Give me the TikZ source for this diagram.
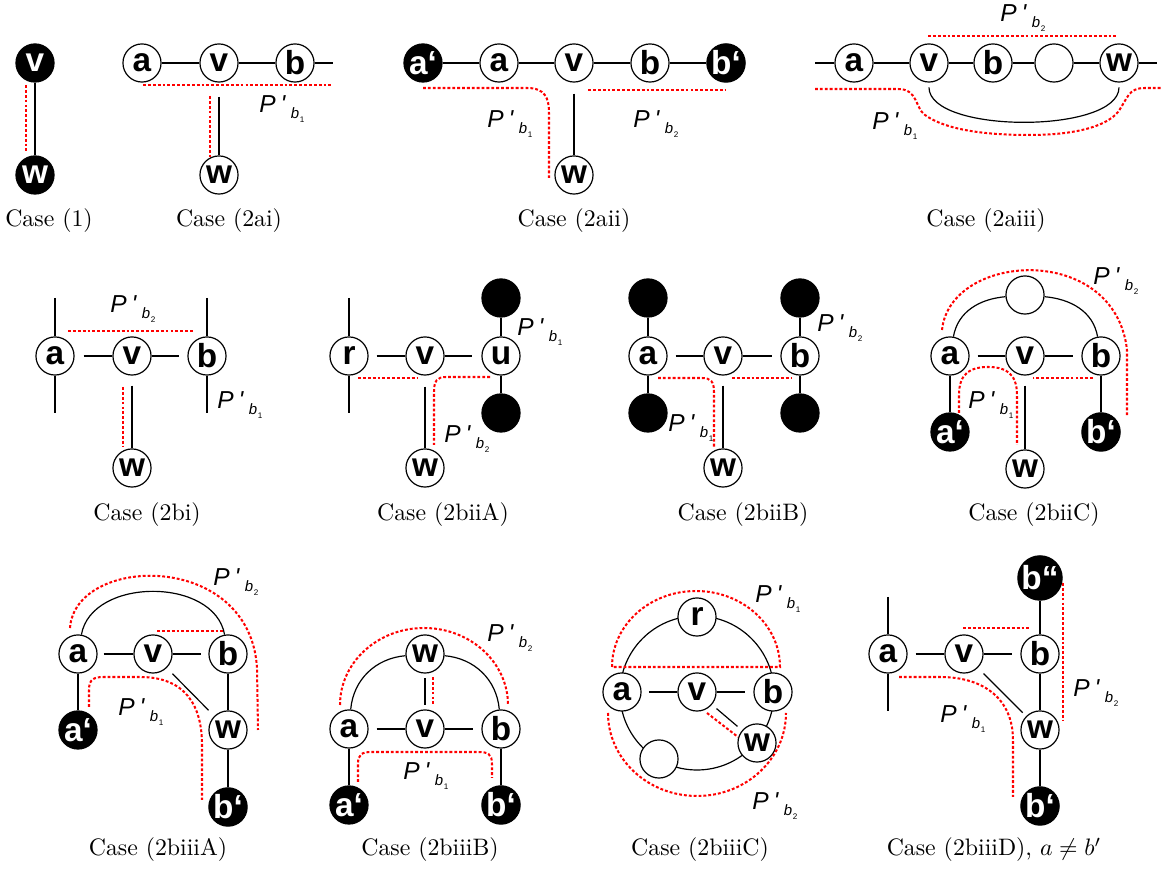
\documentclass[tikz,border=0pt]{standalone}
\usepackage{fontspec}
\newfontfamily\hv{Liberation Sans}
\newfontfamily\hvi{Liberation Sans}[Ligatures=TeXOff]
\newcommand{\nodefnt}{\hv\bfseries\fontsize{14}{14}\selectfont}
\newcommand{\Plab}[1]{{\hvi\itshape\fontsize{10.3}{10.3}\selectfont P\kern2pt'\kern2.3pt\raisebox{-2.5pt}{\fontsize{6.3}{6.3}\selectfont b\kern0.3pt\raisebox{-1.3pt}{\upshape\fontsize{3.4}{3.4}\selectfont #1}}}}
\begin{document}
\begin{tikzpicture}[x=0.42pt,y=-0.42pt,
  vtx/.style={circle,draw,line width=0.5pt,fill=white,minimum size=16pt,inner sep=0pt,font=\nodefnt},
  bvtx/.style={vtx,fill=black,text=white},
  edge/.style={line width=0.5pt},
  rdot/.style={red,line width=0.85pt,dash pattern=on 1.2pt off 0.85pt},
  capt/.style={font=\normalsize,inner sep=0pt},
  plab/.style={anchor=base west,inner sep=0pt}]
\useasboundingbox (0,0) rectangle (1161,869);

% ---------- Case (1)
\node[bvtx] (v1) at (35,63) {v};
\node[bvtx] (w1) at (35,175) {w};
\draw[edge] (v1) -- (w1);
\draw[rdot] (26,85) -- (26,153);
\node[capt] at (49,221) {Case (1)};

% ---------- Case (2ai)
\node[vtx] (a2) at (142,63) {a};
\node[vtx] (v2) at (219,63) {v};
\node[vtx] (b2) at (295,63) {b};
\node[vtx] (w2) at (219,175) {w};
\coordinate (e2) at (333,63);
\draw[edge] (a2) -- (v2);
\draw[edge] (v2) -- (b2);
\draw[edge] (b2) -- (e2);
\draw[edge,shorten <=6pt] (v2) -- (w2);
\draw[rdot] (143,85) -- (333,85);
\draw[rdot] (210,96) -- (210,157);
\node[plab] at (259,113) {\Plab{1}};
\node[capt] at (229,221) {Case (2ai)};

% ---------- Case (2aii)
\node[bvtx] (ap3) at (423,63) {a‘};
\node[vtx] (a3) at (499,63) {a};
\node[vtx] (v3) at (574,63) {v};
\node[vtx] (b3) at (650,63) {b};
\node[bvtx] (bp3) at (726,63) {b‘};
\node[vtx] (w3) at (574,175) {w};
\draw[edge] (ap3) -- (a3);
\draw[edge] (a3) -- (v3);
\draw[edge] (v3) -- (b3);
\draw[edge] (b3) -- (bp3);
\draw[edge,shorten <=4.6pt] (v3) -- (w3);
\draw[rdot] (423,88) -- (527,88) .. controls (545,88) and (549,98) .. (549,113) -- (549,178);
\draw[rdot] (588,90) -- (726,90);
\node[plab] at (487,128) {\Plab{1}};
\node[plab] at (633,128) {\Plab{2}};
\node[capt] at (574,221) {Case (2aii)};

% ---------- Case (2aiii)
\coordinate (s4) at (815,63);
\node[vtx] (a4) at (854,63) {a};
\node[vtx] (v4) at (929,63) {v};
\node[vtx] (b4) at (993,63) {b};
\node[vtx] (n4) at (1054,63) {};
\node[vtx] (w4) at (1119,63) {w};
\coordinate (e4) at (1157,63);
\draw[edge] (s4) -- (a4);
\draw[edge] (a4) -- (v4);
\draw[edge] (v4) -- (b4);
\draw[edge] (b4) -- (n4);
\draw[edge] (n4) -- (w4);
\draw[edge] (w4) -- (e4);
\draw[edge,shorten <=2pt,shorten >=2pt] (v4.south) .. controls (929,134) and (1119,134) .. (w4.south);
\draw[rdot] (815,89) -- (898,89) .. controls (918,89) and (915,108) .. (925,115) .. controls (950,133) and (1000,135) .. (1030,135) .. controls (1070,135) and (1105,128) .. (1118,112) .. controls (1128,98) and (1128,88) .. (1145,88) -- (1161,88);
\draw[rdot] (928,36) -- (1116,36);
\node[plab] at (1000,22) {\Plab{2}};
\node[plab] at (872,130) {\Plab{1}};
\node[capt] at (986,221) {Case (2aiii)};

% ---------- Case (2bi)
\node[vtx] (a5) at (55,356) {a};
\node[vtx] (v5) at (132,356) {v};
\node[vtx] (b5) at (207,356) {b};
\node[vtx] (w5) at (132,468) {w};
\coordinate (at5) at (55,298);
\coordinate (ab5) at (55,413);
\coordinate (bt5) at (207,298);
\coordinate (bb5) at (207,413);
\draw[edge] (at5) -- (a5);
\draw[edge] (a5) -- (ab5);
\draw[edge] (bt5) -- (b5);
\draw[edge] (b5) -- (bb5);
\draw[edge,shorten <=3.8pt] (a5) -- (v5);
\draw[edge,shorten >=3.4pt] (v5) -- (b5);
\draw[edge,shorten <=4.2pt] (v5) -- (w5);
\draw[rdot] (68,331) -- (193,331);
\draw[rdot] (123,387) -- (123,447);
\node[plab] at (110,313) {\Plab{2}};
\node[plab] at (217,409) {\Plab{1}};
\node[capt] at (147,515) {Case (2bi)};

% ---------- Case (2biiA)
\node[vtx] (r6) at (349,356) {r};
\node[vtx] (v6) at (425,356) {v};
\node[vtx] (u6) at (501,356) {u};
\node[vtx] (w6) at (425,468) {w};
\node[bvtx] (ut6) at (501,298) {};
\node[bvtx] (ub6) at (501,413) {};
\coordinate (rt6) at (349,298);
\coordinate (rb6) at (349,413);
\draw[edge] (rt6) -- (r6);
\draw[edge] (r6) -- (rb6);
\draw[edge,shorten <=3.4pt] (r6) -- (v6);
\draw[edge,shorten >=3.8pt] (v6) -- (u6);
\draw[edge] (u6) -- (ut6);
\draw[edge] (u6) -- (ub6);
\draw[edge,shorten <=4.6pt] (v6) -- (w6);
\draw[rdot] (358,378) -- (418,378);
\draw[rdot] (490,377) -- (446,377) .. controls (437,377) and (434,381) .. (434,392) -- (434,445);
\node[plab] at (517,336) {\Plab{1}};
\node[plab] at (444,443) {\Plab{2}};
\node[capt] at (443,515) {Case (2biiA)};

% ---------- Case (2biiB)
\node[vtx] (a7) at (648,356) {a};
\node[vtx] (v7) at (723,356) {v};
\node[vtx] (b7) at (800,356) {b};
\node[vtx] (w7) at (723,468) {w};
\node[bvtx] (at7) at (648,298) {};
\node[bvtx] (ab7) at (648,413) {};
\node[bvtx] (bt7) at (800,298) {};
\node[bvtx] (bb7) at (800,413) {};
\draw[edge] (a7) -- (at7);
\draw[edge] (a7) -- (ab7);
\draw[edge] (b7) -- (bt7);
\draw[edge] (b7) -- (bb7);
\draw[edge,shorten <=3.4pt] (a7) -- (v7);
\draw[edge,shorten >=3.4pt] (v7) -- (b7);
\draw[edge,shorten <=4.2pt] (v7) -- (w7);
\draw[rdot] (658,378) -- (702,378) .. controls (711,378) and (714,382) .. (714,392) -- (714,447);
\draw[rdot] (732,378) -- (792,378);
\node[plab] at (817,332) {\Plab{2}};
\node[plab] at (668,432) {\Plab{1}};
\node[capt] at (743,515) {Case (2biiB)};

% ---------- Case (2biiC)
\node[vtx] (a8) at (950,356) {a};
\node[vtx] (v8) at (1025,356) {v};
\node[vtx] (b8) at (1101,356) {b};
\node[vtx] (t8) at (1025,295) {};
\node[bvtx] (ap8) at (950,432) {a‘};
\node[bvtx] (bp8) at (1101,432) {b‘};
\node[vtx] (w8) at (1025,469) {w};
\draw[edge,shorten <=3.4pt] (a8) -- (v8);
\draw[edge,shorten >=3.4pt] (v8) -- (b8);
\draw[edge] (a8) -- (ap8);
\draw[edge] (b8) -- (bp8);
\draw[edge,shorten <=4.2pt] (v8) -- (w8);
\draw[edge] (a8) to[out=80,in=185] (t8);
\draw[edge] (t8) to[out=-5,in=100] (b8);
\draw[rdot] (959,413) -- (959,395) .. controls (959,372) and (972,367) .. (988,367) .. controls (1004,367) and (1017,372) .. (1017,395) -- (1017,445);
\draw[rdot] (1093,378) -- (1033,378);
\draw[rdot] (942,330) .. controls (950,252) and (1115,242) .. (1127,350) -- (1127,417);
\node[plab] at (1093,285) {\Plab{2}};
\node[plab] at (968,409) {\Plab{1}};
\node[capt] at (1034,515) {Case (2biiC)};

% ---------- Case (2biiiA)
\node[vtx] (a9) at (78,654) {a};
\node[vtx] (v9) at (153,654) {v};
\node[vtx] (b9) at (228,654) {b};
\node[vtx] (w9) at (228,730) {w};
\node[bvtx] (ap9) at (78,730) {a‘};
\node[bvtx] (bp9) at (228,807) {b‘};
\draw[edge,shorten <=2.5pt] (a9) -- (v9);
\draw[edge,shorten >=3pt] (v9) -- (b9);
\draw[edge] (b9) -- (w9);
\draw[edge] (w9) -- (bp9);
\draw[edge] (a9) -- (ap9);
\draw[edge,shorten <=3.4pt,shorten >=3.4pt] (v9) -- (w9);
\draw[edge] (a9) to[out=80,in=100,looseness=1.05] (b9);
\draw[rdot] (157,631) -- (223,631);
\draw[rdot] (70,628) .. controls (75,555) and (250,550) .. (257,668) -- (258,730);
\draw[rdot] (89,707) -- (89,690) .. controls (89,679) and (94,677) .. (104,677) -- (140,677) .. controls (185,677) and (202,705) .. (202,745) -- (202,800);
\node[plab] at (213,586) {\Plab{2}};
\node[plab] at (118,716) {\Plab{1}};
\node[capt] at (158,850) {Case (2biiiA)};

% ---------- Case (2biiiB)
\node[vtx] (a10) at (349,729) {a};
\node[vtx] (v10) at (425,729) {v};
\node[vtx] (b10) at (501,729) {b};
\node[vtx] (w10) at (425,654) {w};
\node[bvtx] (ap10) at (349,805) {a‘};
\node[bvtx] (bp10) at (501,805) {b‘};
\draw[edge,shorten <=3.4pt] (a10) -- (v10);
\draw[edge,shorten >=3.4pt] (v10) -- (b10);
\draw[edge] (a10) -- (ap10);
\draw[edge] (b10) -- (bp10);
\draw[edge,shorten <=2pt,shorten >=1.7pt] (v10) -- (w10);
\draw[edge] (a10) to[out=85,in=185] (w10);
\draw[edge] (w10) to[out=-5,in=95] (b10);
\draw[rdot] (340,705) .. controls (340,662.5) and (377.6,628) .. (424,628) .. controls (470.4,628) and (508,662.5) .. (508,705);
\draw[rdot] (433,677) -- (433,704);
\draw[rdot] (358,782) -- (358,764) .. controls (358,754) and (362,752) .. (372,752) -- (478,752) .. controls (488,752) and (492,754) .. (492,764) -- (492,778);
\node[plab] at (487,642) {\Plab{2}};
\node[plab] at (403,780) {\Plab{1}};
\node[capt] at (430,850) {Case (2biiiB)};

% ---------- Case (2biiiC)
\draw[edge] (697,693) circle[radius=77];
\node[vtx] (a11) at (622,692) {a};
\node[vtx] (v11) at (697,692) {v};
\node[vtx] (b11) at (773,692) {b};
\node[vtx] (r11) at (697,617) {r};
\node[vtx] (w11) at (757,743) {w};
\node[vtx] (n11) at (659,759) {};
\draw[edge,shorten <=3pt] (a11) -- (v11);
\draw[edge,shorten >=3.4pt] (v11) -- (b11);
\draw[edge,shorten <=2.5pt,shorten >=2.5pt] (v11) -- (w11);
\draw[rdot] (612,667) .. controls (612,625) and (649.6,591) .. (696,591) .. controls (742.4,591) and (780,625) .. (780,667) -- cycle;
\draw[rdot] (608,713) .. controls (608,758.8) and (647.8,796) .. (697,796) .. controls (746.2,796) and (786,758.8) .. (786,713);
\draw[rdot] (707,713) -- (738,737);
\node[plab] at (755,603) {\Plab{1}};
\node[plab] at (752,810) {\Plab{2}};
\node[capt] at (700,850) {Case (2biiiC)};

% ---------- Case (2biiiD)
\node[vtx] (a12) at (888,654) {a};
\node[vtx] (v12) at (964,654) {v};
\node[vtx] (b12) at (1040,654) {b};
\node[vtx] (w12) at (1040,730) {w};
\node[bvtx] (bpp12) at (1040,578) {b“};
\node[bvtx] (bp12) at (1040,806) {b‘};
\coordinate (at12) at (888,597);
\coordinate (ab12) at (888,711);
\draw[edge] (at12) -- (a12);
\draw[edge] (a12) -- (ab12);
\draw[edge,shorten <=3.4pt] (a12) -- (v12);
\draw[edge,shorten >=3.4pt] (v12) -- (b12);
\draw[edge] (b12) -- (bpp12);
\draw[edge] (b12) -- (w12);
\draw[edge] (w12) -- (bp12);
\draw[edge,shorten <=3.4pt,shorten >=2pt] (v12) -- (w12);
\draw[rdot] (963,628) -- (1030,628);
\draw[rdot] (1063,583) -- (1063,721);
\draw[rdot] (899,677) -- (940,677) .. controls (985,677) and (1013,700) .. (1013,740) -- (1013,797);
\node[plab] at (1073,697) {\Plab{2}};
\node[plab] at (940,723) {\Plab{1}};
\node[capt] at (994,850) {Case (2biiiD), $a\neq b'$};
\end{tikzpicture}
\end{document}
